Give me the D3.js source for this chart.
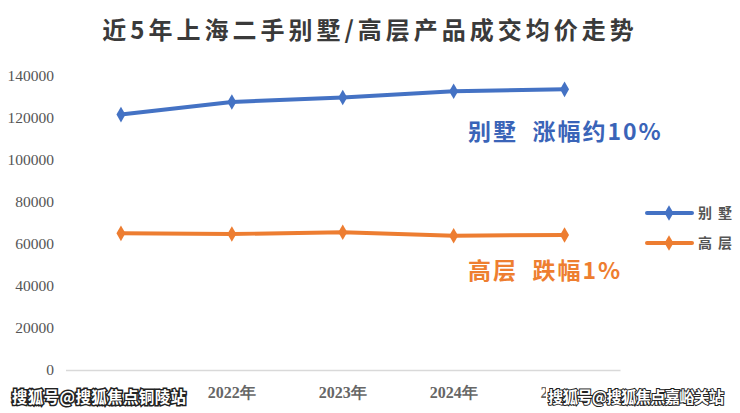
<!DOCTYPE html>
<html><head><meta charset="utf-8">
<script src="https://cdn.jsdelivr.net/npm/d3@7"></script>
<style>
html,body{margin:0;padding:0;background:#fff;}
svg{display:block;}
</style></head>
<body>
<svg id="c" width="740" height="413"></svg>
<script>
const years = ["2021年","2022年","2023年","2024年","2025年"];
const villa = [121500, 127500, 129600, 132600, 133500];
const highrise = [65000, 64700, 65500, 63900, 64200];
const seriesNames = ["别墅","高层"];
const colors = ["#4472C4","#ED7D31"];
const yTicks = [0,20000,40000,60000,80000,100000,120000,140000];
const title = "近5年上海二手别墅/高层产品成交均价走势";
const notes = ["别墅 涨幅约10%","高层 跌幅1%"];
const marks = ["搜狐号@搜狐焦点铜陵站","搜狐号@搜狐焦点嘉峪关站"];

const svg = d3.select("#c");
const x = d3.scaleBand().domain(years).range([65.5, 620]).padding(0);
const y = d3.scaleLinear().domain([0,140000]).range([370, 75.7]);
const serif = "'Liberation Serif','DejaVu Serif',serif";
const cjk = "'Noto Sans CJK SC','Noto Sans',sans-serif";

// title
svg.append("text").attr("x",370).attr("y",39).attr("text-anchor","middle")
  .attr("font-family",cjk).attr("font-weight",700).attr("font-size",24)
  .attr("letter-spacing",4).attr("fill","#3a3a3a").text(title);

// y axis
const ya = svg.append("g").attr("transform","translate(54,0)")
  .call(d3.axisLeft(y).tickValues(yTicks).tickSize(0).tickPadding(0).tickFormat(d3.format("d")));
ya.select(".domain").remove();
ya.selectAll("text").style("font-family",serif).style("font-size","15.5px").attr("fill","#555");

// x axis
const xa = svg.append("g").attr("transform","translate(0,370)")
  .call(d3.axisBottom(x).tickSize(0).tickPadding(17));
xa.select(".domain").attr("stroke","#d9d9d9").attr("stroke-width",1.5);
xa.selectAll("text").style("font-family",serif).style("font-size","16px").attr("font-weight",700).attr("fill","#666");

const cx = d => x(d) + x.bandwidth()/2;
const line = d3.line().x((d,i)=>cx(years[i])).y(d=>y(d));
const diamond = d3.symbol().type(d3.symbolDiamond).size(70);

[villa, highrise].forEach((s,k)=>{
  svg.append("path").datum(s).attr("d",line).attr("fill","none")
    .attr("stroke",colors[k]).attr("stroke-width",4).attr("stroke-linejoin","round");
  svg.selectAll(null).data(s).enter().append("path")
    .attr("d",diamond).attr("fill",colors[k])
    .attr("transform",(d,i)=>`translate(${cx(years[i])},${y(d)})`);
});

// legend
seriesNames.forEach((n,k)=>{
  const ly = 213 + k*30;
  svg.append("line").attr("x1",647).attr("x2",692).attr("y1",ly).attr("y2",ly)
    .attr("stroke",colors[k]).attr("stroke-width",4).attr("stroke-linecap","round");
  svg.append("path").attr("d",diamond).attr("fill",colors[k]).attr("transform",`translate(669,${ly})`);
  svg.append("text").attr("x",698).attr("y",ly+5).attr("font-family",cjk).attr("font-weight",700)
    .attr("font-size",14).attr("letter-spacing",6).attr("fill","#555").text(n);
});

// notes
const noteColors = ["#3A64B8","#EE7E30"];
const noteY = [140, 279];
notes.forEach((t,k)=>{
  svg.append("text").attr("x",468).attr("y",noteY[k]).attr("font-family",cjk).attr("font-weight",700)
    .attr("font-size",23).attr("letter-spacing",2).attr("fill",noteColors[k])
    .attr("xml:space","preserve").text(t.replace(" ","  "));
});

// watermarks
const wm = [{x:10,w:178,t:marks[0],sw:3},{x:546,w:180,t:marks[1],sw:2}];
wm.forEach(m=>{
  svg.append("rect").attr("x",m.x).attr("y",384).attr("width",m.w).attr("height",25).attr("fill","#fff");
  svg.append("text").attr("x",m.x+2).attr("y",403).attr("font-family",cjk).attr("font-weight",700)
    .attr("font-size",15.5).attr("fill","#fff").attr("stroke","#222").attr("stroke-width",m.sw)
    .attr("paint-order","stroke").attr("textLength",m.w-4).text(m.t);
});
</script>
</body></html>
